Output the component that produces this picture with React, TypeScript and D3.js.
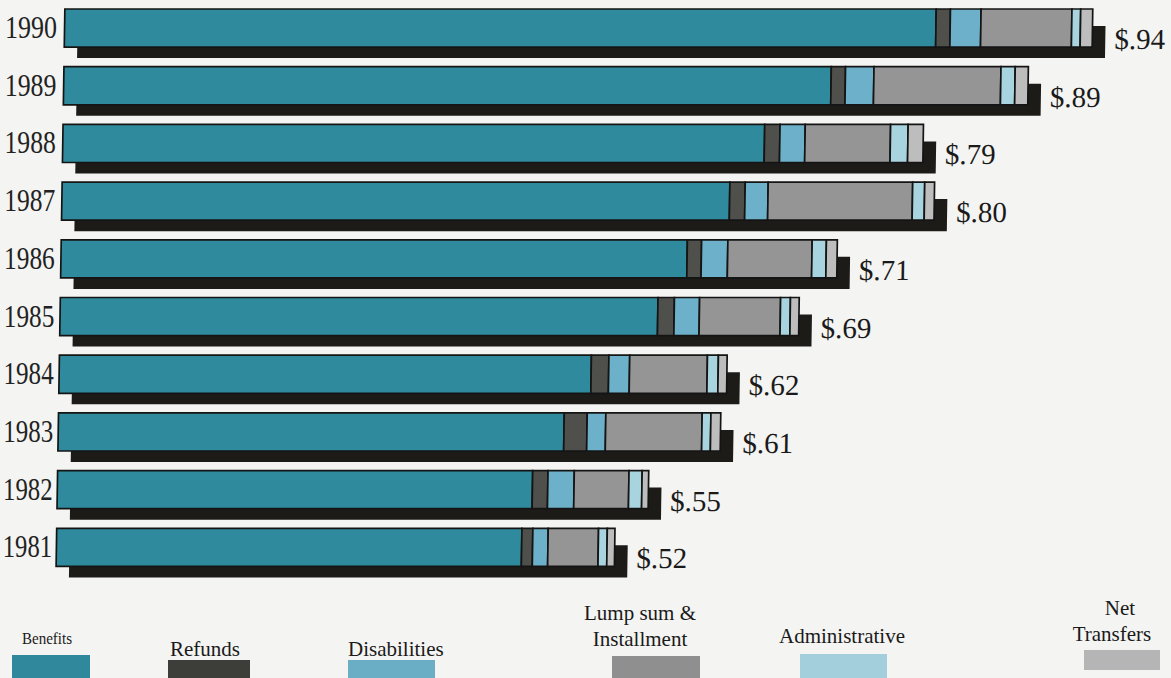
import React from 'react';
import * as d3 from 'd3';

const years = ['1990', '1989', '1988', '1987', '1986', '1985', '1984', '1983', '1982', '1981'];
const benefits = [79.6, 70.1, 64.1, 61.0, 57.2, 54.6, 48.6, 46.2, 43.4, 42.5];
const refunds = [1.3, 1.3, 1.4, 1.4, 1.3, 1.5, 1.6, 2.1, 1.4, 1.0];
const disabilities = [2.8, 2.6, 2.3, 2.1, 2.4, 2.3, 1.9, 1.7, 2.4, 1.4];
const lumpSum = [8.3, 11.6, 7.8, 13.2, 7.7, 7.4, 7.1, 8.8, 5.0, 4.6];
const administrative = [0.8, 1.3, 1.6, 1.1, 1.3, 0.9, 1.0, 0.8, 1.2, 0.8];
const netTransfers = [1.1, 1.2, 1.4, 0.9, 1.0, 0.8, 0.8, 0.9, 0.6, 0.7];
const totalLabels = ['$.94', '$.89', '$.79', '$.80', '$.71', '$.69', '$.62', '$.61', '$.55', '$.52'];

const keys = ['benefits', 'refunds', 'disabilities', 'lumpSum', 'administrative', 'netTransfers'];
const colors: Record<string, string> = {
  benefits: '#2f8a9d',
  refunds: '#4f4f4c',
  disabilities: '#6db0c9',
  lumpSum: '#959595',
  administrative: '#a8d4e0',
  netTransfers: '#bdbdbd',
};
const legendColors: Record<string, string> = {
  benefits: '#2f889c',
  refunds: '#3d3d3a',
  disabilities: '#6aaec6',
  lumpSum: '#8f8f8f',
  administrative: '#a3cfdc',
  netTransfers: '#b5b5b5',
};

export default function App() {
  const W = 1171, H = 678;
  const table = years.map((y, i) => ({
    year: y,
    benefits: benefits[i],
    refunds: refunds[i],
    disabilities: disabilities[i],
    lumpSum: lumpSum[i],
    administrative: administrative[i],
    netTransfers: netTransfers[i],
  }));
  const series = d3.stack<any>().keys(keys)(table);
  const x = d3.scaleLinear().domain([0, 94]).range([65, 1094]);
  const pad = 0.34;
  const y = d3.scaleBand().domain(years).range([9, 9 + 57.7 * (10 - pad)]).paddingInner(pad).paddingOuter(0);
  const bh = y.bandwidth();
  const shadowDx = 13, shadowDy = 11, stepTop = 17;
  const font = '"Liberation Serif", "Times New Roman", serif';

  return (
    <svg width={W} height={H} style={{ position: 'absolute', left: 0, top: 0 }} fontFamily={font}>
      <rect x={0} y={0} width={W} height={H} fill="#f4f4f2" />
      {table.map((d, i) => {
        const y0 = y(d.year)!;
        return (
          <text key={d.year} x={5 - i * 0.25} y={y0 + bh / 2 + 10} fontSize={31} fill="#222"
            textLength={52 - i * 0.3} lengthAdjust="spacingAndGlyphs">{d.year}</text>
        );
      })}
      <g transform="skewX(-0.9)">
        {table.map((d, i) => {
          const y0 = y(d.year)!;
          const end = x(series[series.length - 1][i][1]);
          return (
            <g key={d.year}>
              <rect x={x(0) + shadowDx} y={y0 + stepTop} width={end - x(0)} height={bh - stepTop + shadowDy} fill="#1d1b18" />
              <text x={end + shadowDx + 9} y={y0 + bh + 2} fontSize={29} fill="#1a1a1a">{totalLabels[i]}</text>
            </g>
          );
        })}
        {series.map((s) => (
          <g key={s.key}>
            {s.map((seg, i) => (
              <rect key={i} x={x(seg[0])} y={y(years[i])!} width={x(seg[1]) - x(seg[0])} height={bh}
                fill={colors[s.key]} stroke="#141414" strokeWidth={1.7} />
            ))}
          </g>
        ))}
      </g>
      <g fill="#1a1a1a">
        <text x={22} y={644} fontSize={17} textLength={50} lengthAdjust="spacingAndGlyphs">Benefits</text>
        <rect x={12} y={655} width={78} height={23} fill={legendColors.benefits} />
        <text x={170} y={656} fontSize={21}>Refunds</text>
        <rect x={168} y={660} width={82} height={18} fill={legendColors.refunds} />
        <text x={348} y={656} fontSize={21}>Disabilities</text>
        <rect x={348} y={660} width={87} height={18} fill={legendColors.disabilities} />
        <text x={640} y={620} fontSize={21} textAnchor="middle">Lump sum &amp;</text>
        <text x={640} y={646} fontSize={21} textAnchor="middle">Installment</text>
        <rect x={612} y={656} width={88} height={22} fill={legendColors.lumpSum} />
        <text x={842} y={643} fontSize={21} textAnchor="middle">Administrative</text>
        <rect x={800} y={654} width={87} height={24} fill={legendColors.administrative} />
        <text x={1120} y={615} fontSize={21} textAnchor="middle">Net</text>
        <text x={1112} y={641} fontSize={21} textAnchor="middle">Transfers</text>
        <rect x={1084} y={650} width={76} height={20} fill={legendColors.netTransfers} />
      </g>
    </svg>
  );
}
